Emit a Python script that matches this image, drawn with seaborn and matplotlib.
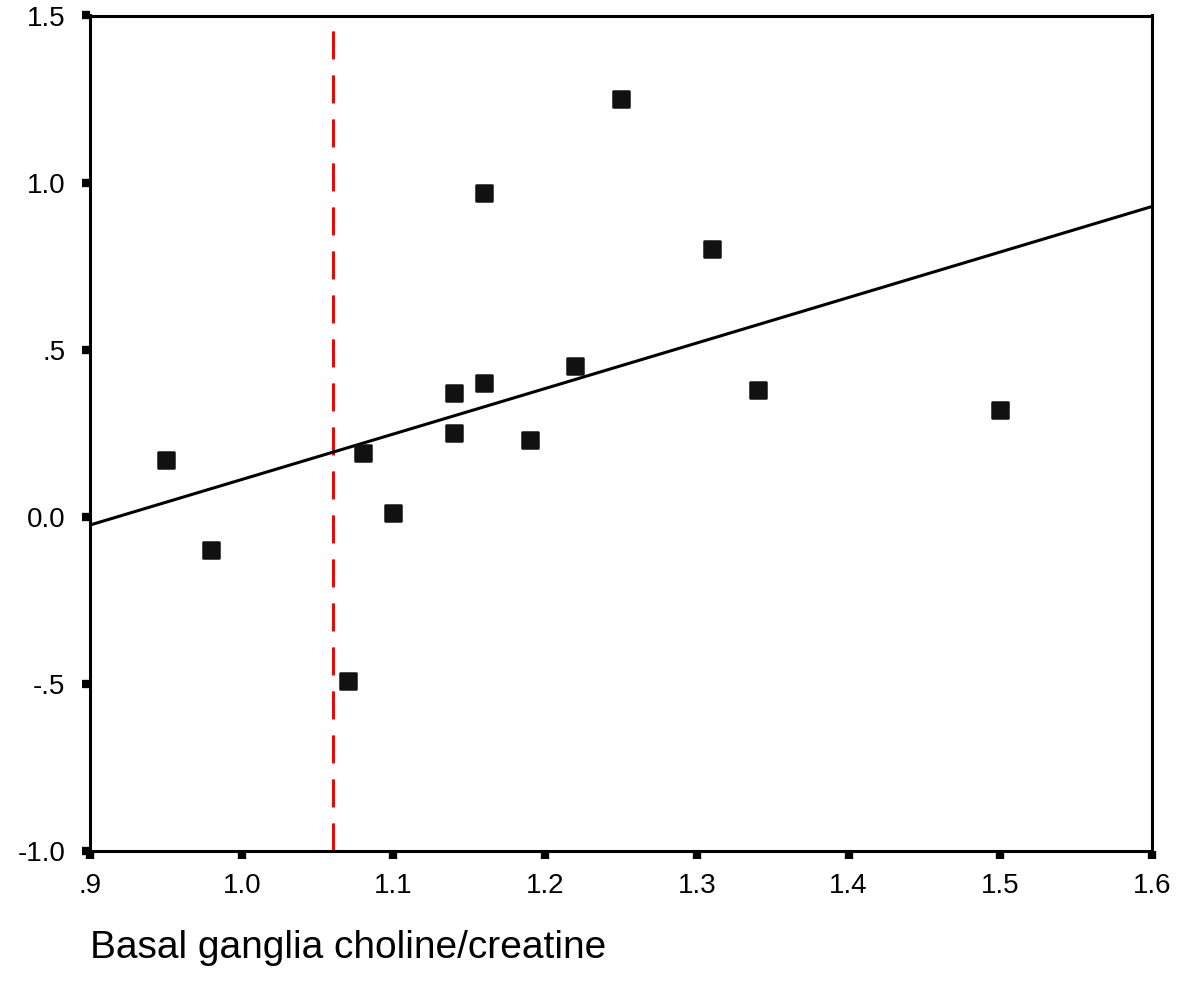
import matplotlib
matplotlib.use("Agg")
import matplotlib.pyplot as plt
import seaborn as sns
import numpy as np
import pandas as pd

# Data
choline_creatine = [0.95, 0.98, 1.07, 1.08, 1.10, 1.14, 1.14, 1.16, 1.16, 1.19, 1.22, 1.25, 1.31, 1.34, 1.50]
y_values = [0.17, -0.10, -0.49, 0.19, 0.01, 0.37, 0.25, 0.40, 0.97, 0.23, 0.45, 1.25, 0.80, 0.38, 0.32]
cutoff = 1.06
x_ticks = [0.9, 1.0, 1.1, 1.2, 1.3, 1.4, 1.5, 1.6]
x_tick_labels = [".9", "1.0", "1.1", "1.2", "1.3", "1.4", "1.5", "1.6"]
y_ticks = [-1.0, -0.5, 0.0, 0.5, 1.0, 1.5]
y_tick_labels = ["-1.0", "-.5", "0.0", ".5", "1.0", "1.5"]
x_label = "Basal ganglia choline/creatine"

df = pd.DataFrame({"x": choline_creatine, "y": y_values})

sns.set_style("white")
plt.rcParams["font.family"] = ["Liberation Sans", "DejaVu Sans"]
plt.rcParams["text.color"] = "black"
plt.rcParams["axes.labelcolor"] = "black"
plt.rcParams["xtick.color"] = "black"
plt.rcParams["ytick.color"] = "black"

fig = plt.figure(figsize=(11.81, 9.97), dpi=100)
ax = fig.add_axes([90 / 1181, 1 - 851 / 997, (1152 - 90) / 1181, (851 - 15.5) / 997])
ax.set_xlim(0.9, 1.6)
ax.set_ylim(-1.0, 1.5)

sns.regplot(data=df, x="x", y="y", ax=ax, ci=None, truncate=False, marker="s",
            scatter_kws=dict(s=120, color="#111111", edgecolors="#111111",
                             linewidths=1.8, zorder=3, alpha=1),
            line_kws=dict(color="black", linewidth=2.2, zorder=2))
ax.set_xlim(0.9, 1.6)
ax.set_ylim(-1.0, 1.5)

ax.axvline(cutoff, color="#ff0000", linewidth=2.2, dashes=(9.2, 5.2), zorder=1)

ax.set_xticks(x_ticks)
ax.set_xticklabels(x_tick_labels)
ax.set_yticks(y_ticks)
ax.set_yticklabels(y_tick_labels)
ax.tick_params(axis="both", which="major", direction="out", length=5.8, width=6,
               color="black", labelcolor="black", labelsize=20,
               bottom=True, left=True, top=False, right=False)
ax.tick_params(axis="x", pad=10)
ax.tick_params(axis="y", pad=12)

for sp in ax.spines.values():
    sp.set_visible(True)
    sp.set_color("black")
    sp.set_linewidth(2.2)

ax.set_ylabel("")
ax.set_xlabel(x_label, fontsize=28, loc="left", labelpad=22, color="black")

fig.savefig("out.png", dpi=100, facecolor="white")
